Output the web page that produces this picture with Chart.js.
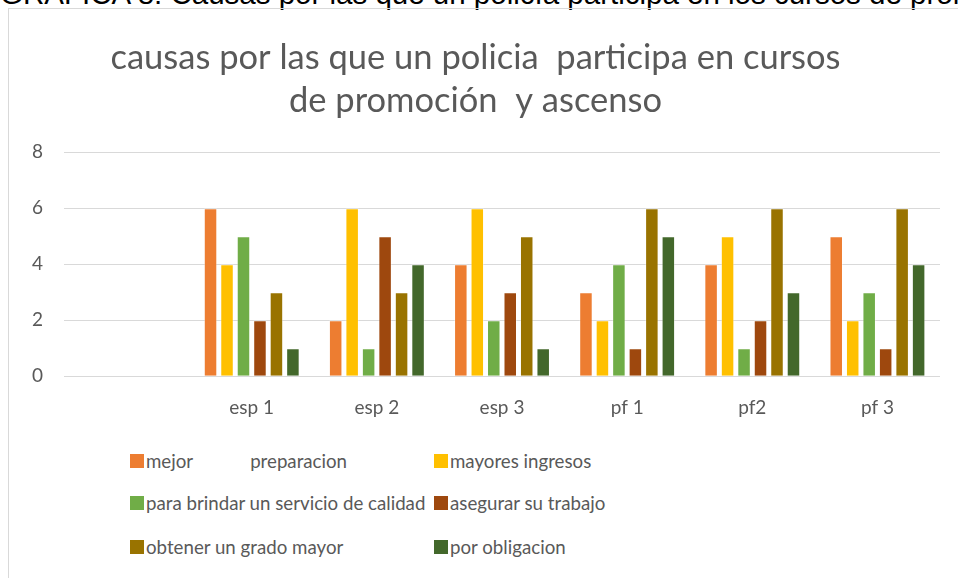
<!DOCTYPE html>
<html>

<head>
    <title>Causas - cursos de promocion</title>
    <meta charset="utf-8">
    <script src="https://cdn.jsdelivr.net/npm/chart.js@4.4.0/dist/chart.umd.min.js"></script>
    <style>
        body {
            margin: 0;
            background: #ffffff;
            width: 958px;
            height: 578px;
            overflow: hidden;
            position: relative;
        }

        .caption {
            position: absolute;
            left: 0;
            top: -21px;
            white-space: nowrap;
            font-family: 'Liberation Sans', Arial, sans-serif;
            font-size: 29.5px;
            line-height: 30px;
            color: #000;
        }

        .frame {
            position: absolute;
            left: 8px;
            top: 8px;
            width: 1000px;
            height: 600px;
            border-left: 1px solid #d9d9d9;
            border-top: 1px solid #d9d9d9;
        }

        .chart-box {
            position: absolute;
            left: 0;
            top: 0;
            width: 958px;
            height: 437px;
        }

        #legend {
            position: absolute;
            left: 130px;
            top: 448px;
            font-family: Lato, sans-serif;
            font-size: 18.7px;
            color: #595959;
        }

        .item {
            position: absolute;
            white-space: pre;
            display: flex;
            align-items: center;
            height: 26px;
        }

        .item span.box {
            display: inline-block;
            width: 14px;
            height: 14px;
            margin-right: 2px;
        }
    </style>
</head>

<body>
    <div class="caption">GRAFICA 8: Causas por las que un policía participa en los cursos de promoción y ascenso</div>
    <div class="frame"></div>
    <div class="chart-box">
        <canvas id="myChart"></canvas>
    </div>
    <div id="legend"></div>

    <script>
        const categories = ['', 'esp 1', 'esp 2', 'esp 3', 'pf 1', 'pf2', 'pf 3'];
        const seriesNames = [
            'mejor            preparacion',
            'mayores ingresos',
            'para brindar un servicio de calidad',
            'asegurar su trabajo',
            'obtener un grado mayor',
            'por obligacion'
        ];
        const mejorPreparacion = [null, 6, 2, 4, 3, 4, 5];
        const mayoresIngresos = [null, 4, 6, 6, 2, 5, 2];
        const servicioCalidad = [null, 5, 1, 2, 4, 1, 3];
        const asegurarTrabajo = [null, 2, 5, 3, 1, 2, 1];
        const gradoMayor = [null, 3, 3, 5, 6, 6, 6];
        const porObligacion = [null, 1, 4, 1, 5, 3, 4];
        const yTicks = [0, 2, 4, 6, 8];

        const colors = ['#ED7D31', '#FFC000', '#70AD47', '#9E480E', '#997300', '#43682B'];
        const values = [mejorPreparacion, mayoresIngresos, servicioCalidad, asegurarTrabajo, gradoMayor, porObligacion];

        const grey = '#595959';

        const ctx = document.getElementById('myChart').getContext('2d');
        const chart = new Chart(ctx, {
            type: 'bar',
            data: {
                labels: categories,
                datasets: values.map((v, i) => ({
                    label: seriesNames[i],
                    data: v,
                    backgroundColor: colors[i],
                    borderColor: 'rgba(255,255,255,0.35)',
                    borderWidth: 1,
                    categoryPercentage: 0.79,
                    barPercentage: 0.82
                }))
            },
            options: {
                responsive: true,
                maintainAspectRatio: false,
                animation: false,
                layout: {
                    padding: { left: 11, right: 18, top: 36, bottom: 6 }
                },
                plugins: {
                    legend: { display: false },
                    tooltip: { enabled: false },
                    title: {
                        display: true,
                        text: ['causas por las que un policia  participa en cursos', 'de promoción  y ascenso'],
                        color: grey,
                        font: { family: 'Lato', size: 34.5, weight: 'normal', lineHeight: 1.25 },
                        padding: { top: 0, bottom: 30 }
                    }
                },
                scales: {
                    x: {
                        grid: { display: false },
                        border: { display: false },
                        ticks: {
                            color: grey,
                            font: { family: 'Lato', size: 19 },
                            padding: 12,
                            maxRotation: 0
                        }
                    },
                    y: {
                        min: 0,
                        max: 8,
                        afterBuildTicks: axis => { axis.ticks = yTicks.map(v => ({ value: v })); },
                        grid: { color: '#d9d9d9', lineWidth: 1, drawTicks: false },
                        border: { display: false },
                        ticks: {
                            color: grey,
                            font: { family: 'Lato', size: 19 },
                            padding: 21
                        }
                    }
                }
            }
        });

        // legend built from the datasets, laid out in two columns like the original
        const legendEl = document.getElementById('legend');
        const colX = [0, 304];
        const rowY = [0, 42, 86];
        chart.data.datasets.forEach((ds, i) => {
            const item = document.createElement('div');
            item.className = 'item';
            item.style.left = colX[i % 2] + 'px';
            item.style.top = rowY[Math.floor(i / 2)] + 'px';
            item.innerHTML = '<span class="box" style="background:' + ds.backgroundColor + '"></span>' + ds.label;
            legendEl.appendChild(item);
        });
    </script>
</body>

</html>
